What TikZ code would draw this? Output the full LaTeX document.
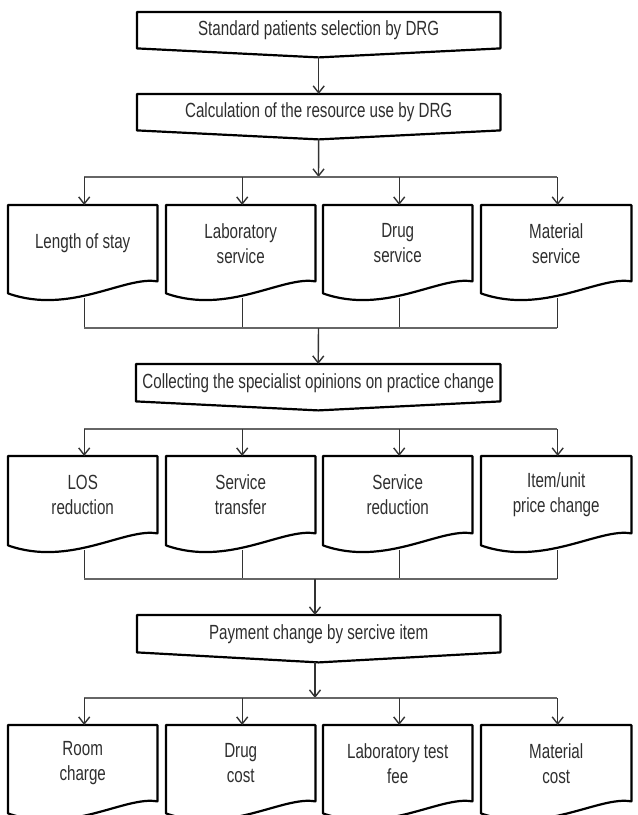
\documentclass[tikz,border=0pt]{standalone}
\usepackage{fontspec}
\setmainfont[FakeStretch=0.74]{Liberation Sans}
\usetikzlibrary{arrows.meta,calc}
\begin{document}
\begin{tikzpicture}[x=1pt,y=-1pt,
  boxtext/.style={inner sep=0pt, align=center, font=\fontsize{20.5}{25}\selectfont, text=black!82},
  pent/.style={boxtext, minimum width=363pt, minimum height=36pt, anchor=north west},
  docbox/.style={boxtext, minimum width=149pt, minimum height=76pt, anchor=north west},
  outline/.style={draw=black, line width=2.2pt, line join=round},
  conn/.style={draw=black!80, line width=1.4pt},
  arr/.style={conn, -{Straight Barb[length=7pt,width=11pt]}},
  hline/.style={draw=black!60, line width=1.4pt}]
\path[use as bounding box] (0,0) rectangle (638,815);
\clip (0,0) rectangle (638,815);

% pentagon boxes
\node[pent] (A) at (137,12) {Standard patients selection by DRG};
\node[pent] (B) at (137,94) {Calculation of the resource use by DRG};
\node[pent, minimum width=364pt, minimum height=37pt] (C) at (136,364) {Collecting the specialist opinions on practice change};
\node[pent, minimum height=37pt] (P) at (137,615) {Payment change by sercive item};
\foreach \n/\d in {A/9,B/9,C/9,P/10}{
  \coordinate (\n-tip) at ($(\n.south)+(0,\d)$);
  \draw[outline] (\n.north west) -- (\n.north east) -- (\n.south east) -- (\n-tip) -- (\n.south west) -- cycle;
}

% document boxes
\node[docbox] (r1a) at (8,205) {Length of stay};
\node[docbox] (r1b) at (166,205) {Laboratory\\service};
\node[docbox] (r1c) at (323,205) {Drug\\service};
\node[docbox, minimum width=150pt] (r1d) at (481,205) {Material\\service};
\node[docbox, minimum height=77pt] (r2a) at (8,456) {LOS\\reduction};
\node[docbox, minimum height=77pt] (r2b) at (166,456) {Service\\transfer};
\node[docbox, minimum height=77pt] (r2c) at (323,456) {Service\\reduction};
\node[docbox, minimum height=77pt, minimum width=150pt] (r2d) at (481,456) {Item/unit\\price change};
\node[docbox] (r3a) at (8,725) {Room\\charge};
\node[docbox] (r3b) at (166,725) {Drug\\cost};
\node[docbox] (r3c) at (323,725) {Laboratory test\\fee};
\node[docbox, minimum width=150pt] (r3d) at (481,725) {Material\\cost};
\foreach \n in {r1a,r1b,r1c,r1d,r2a,r2b,r2c,r2d,r3a,r3b,r3c,r3d}{
  \draw[outline] (\n.north west) -- (\n.north east) -- (\n.south east)
    .. controls ($(\n.south east)+(-32,-6)$) and ($(\n.south west)+(62,34)$) .. ($(\n.south west)+(0,12)$) -- cycle;
}

% junction coordinates
\coordinate (h1) at (318.5,177);
\coordinate (h2) at (318.5,328);
\coordinate (h3) at (318.5,429);
\coordinate (h4) at (315,579);
\coordinate (h5) at (315,698);

% connectors
\draw[arr] (A-tip) -- (B.north);
\draw[arr] (B-tip) -- (h1);
\draw[hline] ($(r1a.north |- h1)+(1.5,0)$) -- ($(r1d.north |- h1)+(1,0)$);
\foreach \n in {r1a,r1b,r1c,r1d}{ \draw[arr] ($(\n.north |- h1)+(1.5,0)$) -- ($(\n.north)+(1.5,0)$); }

\foreach \n in {r1a,r1b,r1c,r1d}{ \draw[conn] ($(\n.south)+(1.5,17)$) -- ($(\n.south |- h2)+(1.5,0)$); }
\draw[hline] ($(r1a.south |- h2)+(1.5,0)$) -- ($(r1d.south |- h2)+(1,0)$);
\draw[arr] (h2) -- (C.north);

\draw[hline] ($(r2a.north |- h3)+(1.5,0)$) -- ($(r2d.north |- h3)+(1,0)$);
\foreach \n in {r2a,r2b,r2c,r2d}{ \draw[arr] ($(\n.north |- h3)+(1.5,0)$) -- ($(\n.north)+(1.5,0)$); }

\foreach \n in {r2a,r2b,r2c,r2d}{ \draw[conn] ($(\n.south)+(1.5,17)$) -- ($(\n.south |- h4)+(1.5,0)$); }
\draw[hline] ($(r2a.south |- h4)+(1.5,0)$) -- ($(r2d.south |- h4)+(1,0)$);
\draw[arr] (h4) -- (h4 |- P.north);

\draw[arr] (P-tip -| h5) -- (h5);
\draw[hline] ($(r3a.north |- h5)+(1.5,0)$) -- ($(r3d.north |- h5)+(1,0)$);
\foreach \n in {r3a,r3b,r3c,r3d}{ \draw[arr] ($(\n.north |- h5)+(1.5,0)$) -- ($(\n.north)+(1.5,0)$); }
\end{tikzpicture}
\end{document}
